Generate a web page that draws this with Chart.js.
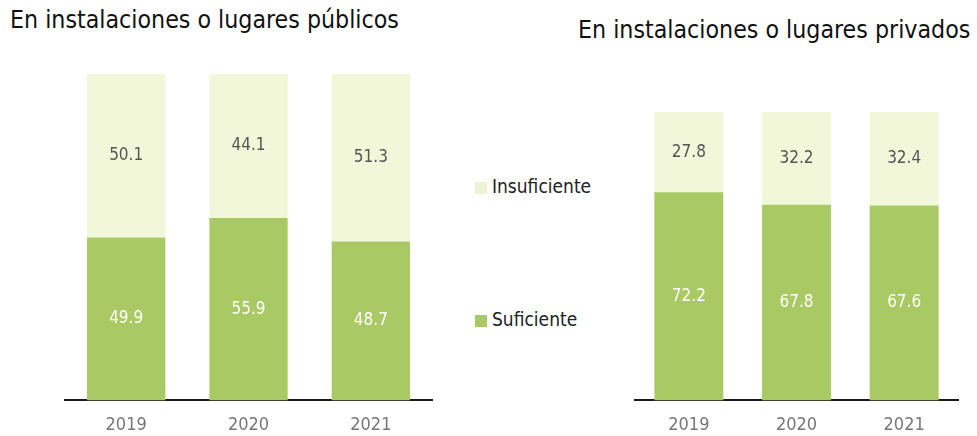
<!DOCTYPE html>
<html>
<head>
<meta charset="utf-8">
<script src="https://cdn.jsdelivr.net/npm/chart.js@4"></script>
<style>
    body { margin: 0; background: #fff; }
    #page { position: relative; width: 977px; height: 436px; overflow: hidden; font-family: "DejaVu Sans Condensed", sans-serif; }
    .titulo { position: absolute; font-size: 24.7px; color: #111; white-space: nowrap; }
    .caja { position: absolute; top: 0; height: 446px; }
    .leyenda { position: absolute; left: 475px; font-size: 19px; color: #222; white-space: nowrap; }
    .leyenda span { display: inline-block; width: 12px; height: 12px; margin-right: 5px; vertical-align: -1px; }
</style>
</head>
<body>
<div id="page">
    <div class="titulo" style="left:10px; top:5px;">En instalaciones o lugares públicos</div>
    <div class="titulo" style="left:578px; top:15px;">En instalaciones o lugares privados</div>
    <div class="caja" style="left:55px; width:390px;"><canvas id="chart-publicos"></canvas></div>
    <div class="caja" style="left:625px; width:352px;"><canvas id="chart-privados"></canvas></div>
    <div class="leyenda" style="top:175px;"><span style="background:#eef3d2"></span>Insuficiente</div>
    <div class="leyenda" style="top:308px;"><span style="background:#a8c964"></span>Suficiente</div>
</div>
<script>
var anios = ['2019', '2020', '2021'];
var publicos_suficiente = [49.9, 55.9, 48.7];
var publicos_insuficiente = [50.1, 44.1, 51.3];
var privados_suficiente = [72.2, 67.8, 67.6];
var privados_insuficiente = [27.8, 32.2, 32.4];

var color_suficiente = '#a8c964';
var color_insuficiente = '#f3f7da';
var fuente = "'DejaVu Sans Condensed', sans-serif";

// etiquetas de valor en el centro de cada segmento
var etiquetas_plugin = {
    id: 'etiquetas',
    afterDatasetsDraw: function (chart) {
        var ctx = chart.ctx;
        ctx.save();
        ctx.font = '17px ' + fuente;
        ctx.textAlign = 'center';
        ctx.textBaseline = 'middle';
        chart.data.datasets.forEach(function (ds, i) {
            var meta = chart.getDatasetMeta(i);
            meta.data.forEach(function (bar, j) {
                ctx.fillStyle = i === 0 ? '#ffffff' : '#555555';
                var centro = (bar.y + bar.base) / 2;
                ctx.fillText(ds.data[j].toFixed(1), bar.x, centro);
            });
        });
        ctx.restore();
    }
};

function crear_chart(id, suficiente, insuficiente, padding) {
    return new Chart(document.getElementById(id), {
        type: 'bar',
        data: {
            labels: anios,
            datasets: [{
                label: 'Suficiente',
                data: suficiente,
                backgroundColor: color_suficiente,
                categoryPercentage: 1,
                barPercentage: 0.64
            }, {
                label: 'Insuficiente',
                data: insuficiente,
                backgroundColor: color_insuficiente,
                categoryPercentage: 1,
                barPercentage: 0.64
            }]
        },
        options: {
            responsive: true,
            maintainAspectRatio: false,
            animation: false,
            layout: { padding: padding },
            plugins: {
                legend: { display: false },
                tooltip: { enabled: false }
            },
            scales: {
                x: {
                    stacked: true,
                    grid: { display: false },
                    border: { display: true, color: '#1a1a1a', width: 2 },
                    ticks: { color: '#777', padding: 6, font: { size: 18, family: fuente } }
                },
                y: {
                    stacked: true,
                    display: false,
                    min: 0,
                    max: 100
                }
            }
        },
        plugins: [etiquetas_plugin]
    });
}

crear_chart('chart-publicos', publicos_suficiente, publicos_insuficiente, { left: 10, right: 13, top: 74, bottom: 4 });
crear_chart('chart-privados', privados_suficiente, privados_insuficiente, { left: 10, right: 19, top: 112, bottom: 4 });
</script>
</body>
</html>
